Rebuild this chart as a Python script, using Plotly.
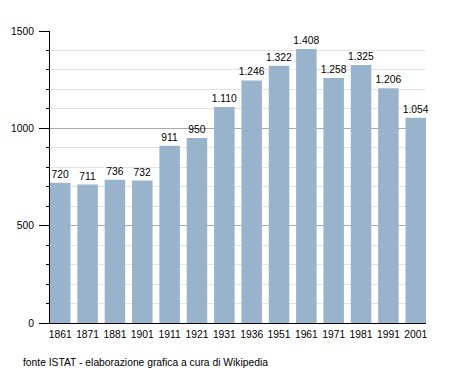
import plotly.graph_objects as go

years = ["1861", "1871", "1881", "1901", "1911", "1921", "1931", "1936",
         "1951", "1961", "1971", "1981", "1991", "2001"]
population = [720, 711, 736, 732, 911, 950, 1110, 1246, 1322, 1408, 1258, 1325, 1206, 1054]
y_ticks = [0, 500, 1000, 1500]
source_note = "fonte ISTAT - elaborazione grafica a cura di Wikipedia"


def it_fmt(v):
    return f"{v:,}".replace(",", ".")


labels = [it_fmt(v) for v in population]
gap = 0.25
half = (1 - gap) / 2
FS = 10.3
FONT = "Liberation Sans, Arial, sans-serif"

fig = go.Figure(go.Bar(
    x=list(range(len(years))), y=population,
    marker=dict(color="#9ab3cc", line=dict(width=0)),
    text=labels, textposition="outside", cliponaxis=False,
    constraintext="none",
    textfont=dict(family=FONT, size=FS, color="#000"),
    hoverinfo="skip",
))

fig.update_layout(
    width=455, height=373,
    margin=dict(l=50, r=29, t=31, b=50, autoexpand=False),
    paper_bgcolor="white", plot_bgcolor="white",
    bargap=gap, showlegend=False,
    font=dict(family=FONT, size=FS, color="#000"),
)
fig.update_xaxes(
    tickmode="array", tickvals=list(range(len(years))), ticktext=years,
    range=[-half, len(years) - 1 + half],
    showline=True, linecolor="#000", linewidth=1,
    ticks="", showgrid=False, zeroline=False,
    tickfont=dict(size=FS), ticklabelstandoff=2,
)
fig.update_yaxes(
    range=[0, 1500], tickvals=y_ticks,
    showline=True, linecolor="#000", linewidth=1,
    ticks="outside", ticklen=10, tickcolor="#000", tickwidth=1,
    showgrid=True, gridcolor="#aaaaaa", gridwidth=1,
    zeroline=False,
    minor=dict(dtick=100, ticks="outside", ticklen=3, tickcolor="#000",
               showgrid=True, gridcolor="#e3e3e3", gridwidth=1),
    tickfont=dict(size=FS), ticklabelstandoff=3,
)
fig.add_annotation(
    text=source_note, xref="paper", yref="paper",
    x=-29 / 376, y=-39 / 292, xanchor="left", yanchor="middle",
    showarrow=False, font=dict(size=FS, color="#000"),
)
fig.write_html(
    "out.html",
    config={"displayModeBar": False, "staticPlot": True},
    post_script="document.body.style.margin='0';document.body.style.overflow='hidden';",
)
